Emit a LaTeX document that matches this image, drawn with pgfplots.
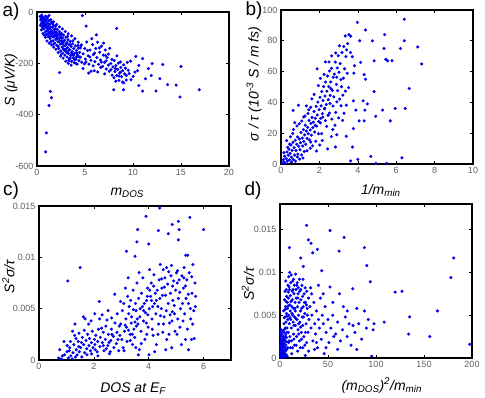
\documentclass[border=0pt]{standalone}
\usepackage{fontspec}
\setmainfont{Liberation Sans}
\usepackage{pgfplots}
\pgfplotsset{compat=1.18}
\definecolor{tickgray}{RGB}{95,95,95}
\definecolor{dotblue}{RGB}{0,0,255}
\pgfplotsset{
  panel/.style={
    scale only axis, width=192pt, height=154pt, anchor=south west,
    tick align=inside, major tick length=3pt,
    axis line style={line width=1.5pt},
    tick style={line width=0.6pt, black},
    scaled ticks=false,
    /pgf/number format/assume math mode=true,
    ticklabel style={font=\fontsize{9}{10}\selectfont, text=tickgray},
    label style={font=\fontsize{14}{16}\selectfont\itshape},
    every axis plot/.append style={only marks, mark=*, mark size=1.35pt,
      mark options={draw=dotblue, fill=dotblue}},
  },
}
\newcommand{\sub}[1]{\textsubscript{#1}}
\newcommand{\sps}[1]{\textsuperscript{#1}}
\begin{document}
\begin{tikzpicture}
\useasboundingbox (0,0) rectangle (485pt,398pt);
% a) Seebeck vs m_DOS
\begin{axis}[panel, at={(37pt,232pt)},
  xmin=0, xmax=20, ymin=-600, ymax=0,
  xtick={0,5,10,15,20}, ytick={-600,-400,-200,0},
  yticklabels={-600,-400,-200,0},
  xlabel={m\sub{DOS}}, ylabel={S (μV/K)},
  xlabel style={at={(axis description cs:0.47,-0.19)}, anchor=base},
  ylabel style={at={(axis description cs:-0.135,0.56)}, anchor=center},
]
\addplot coordinates {
(0.32,-17)(0.38,-31)(0.41,-22)(0.47,-44)(0.52,-27)(0.55,-58)(0.58,-19)(0.63,-37)(0.66,-51)(0.71,-24)
(0.73,-66)(0.77,-41)(0.81,-29)(0.84,-57)(0.86,-78)(0.92,-35)(0.95,-49)(0.97,-88)(1.03,-26)(1.06,-62)
(1.09,-43)(1.13,-74)(1.16,-96)(1.19,-55)(1.22,-33)(1.27,-81)(1.31,-47)(1.34,-66)(1.37,-104)(1.42,-58)
(1.46,-87)(1.49,-39)(1.53,-73)(1.57,-95)(1.62,-61)(1.66,-112)(1.69,-82)(1.73,-52)(1.78,-98)(1.81,-70)
(1.86,-121)(1.89,-88)(1.93,-64)(1.98,-107)(2.02,-79)(2.07,-130)(2.11,-96)(2.14,-69)(2.19,-116)(2.23,-86)
(2.27,-142)(2.31,-104)(2.36,-77)(2.41,-125)(2.44,-93)(2.48,-152)(2.53,-112)(2.57,-84)(2.61,-137)(2.66,-101)
(2.69,-160)(2.74,-121)(2.78,-90)(2.83,-146)(2.87,-110)(2.91,-168)(2.96,-131)(3.02,-98)(3.06,-155)(3.11,-118)
(3.14,-176)(3.19,-139)(3.23,-108)(3.28,-162)(3.33,-127)(3.37,-184)(3.42,-147)(3.46,-115)(3.51,-170)(3.56,-135)
(3.61,-192)(3.66,-154)(3.72,-124)(3.77,-178)(3.83,-142)(3.88,-198)(3.93,-161)(3.99,-132)(4.06,-184)(4.12,-150)
(4.18,-203)(4.24,-168)(4.31,-141)(4.37,-190)(4.44,-157)(4.52,-176)(4.58,-132)(4.66,-196)
(0.45,-70)(0.62,-84)(0.88,-99)(1.04,-113)(1.28,-122)(1.52,-128)(1.74,-137)(1.97,-145)(2.21,-158)(2.46,-172)
(2.72,-180)(2.99,-192)(3.26,-200)(3.55,-207)(1.12,-20)(1.44,-30)(1.71,-38)(2.05,-48)(2.34,-58)(2.64,-66)
(2.95,-76)(3.25,-85)(3.6,-93)(3.95,-104)(4.3,-118)
(0.56,-38)(0.69,-46)(0.83,-52)(0.99,-60)(1.14,-66)(1.38,-78)(1.58,-84)(1.83,-92)(2.09,-103)(2.38,-114)
(2.58,-124)(2.81,-132)(3.07,-142)(3.31,-150)(3.59,-160)(3.84,-168)(4.1,-176)
(0.5,-12)(0.35,-52)(0.9,-16)(1.15,-85)(1.25,-14)(1.6,-45)(1.95,-55)(2.2,-135)(2.5,-100)(2.75,-145)
(3.05,-125)(3.3,-190)(3.5,-128)(3.7,-165)(3.9,-185)(4.15,-160)(4.4,-175)(2.0,-90)(1.45,-115)(1.75,-125)
(2.55,-165)(2.9,-150)(3.15,-160)(3.45,-180)(4.05,-200)(4.5,-140)(1.05,-72)(0.75,-90)(0.6,-62)(1.3,-95)
(1.85,-78)(2.42,-88)(2.68,-115)(3.2,-95)(3.75,-112)(4.25,-130)
(4.63,-128)(4.81,-163)(4.97,-142)(5.04,-184)(5.18,-117)(5.33,-171)(5.41,-203)(5.52,-148)(5.63,-188)(5.79,-127)
(5.88,-166)(6.03,-193)(6.12,-142)(6.24,-178)(6.31,-118)(6.42,-204)(6.53,-157)(6.61,-187)(6.72,-133)(6.83,-212)
(6.91,-168)(7.03,-197)(7.12,-148)(7.22,-222)(7.31,-178)(7.43,-207)(5.62,-231)(5.97,-229)(6.33,-234)(5.38,-238)
(6.64,-216)(4.93,-202)(5.71,-104)(6.19,-89)(5.12,-55)(4.72,-14)(6.94,-121)(7.58,-141)(5.25,-150)(5.85,-210)
(6.5,-140)(4.8,-220)(7.2,-190)(5.1,-195)(5.5,-175)(6.0,-160)(6.7,-195)(7.15,-170)(7.8,-185)
(7.52,-231)(7.68,-201)(7.83,-246)(7.91,-214)(8.04,-189)(8.02,-256)(8.13,-232)(8.22,-209)(8.31,-247)(8.42,-224)
(8.47,-199)(8.53,-266)(8.61,-238)(8.72,-216)(8.81,-252)(8.93,-229)(9.02,-206)(9.04,-276)(9.12,-241)(9.21,-219)
(9.3,-247)(9.5,-227)(9.75,-191)(9.8,-264)(10.2,-234)(10.3,-173)(10.6,-208)(10.6,-286)(11.0,-182)(11.0,-308)
(11.6,-221)(11.9,-247)(12.0,-201)(12.4,-308)(12.8,-260)(13.1,-205)(13.6,-283)(14.9,-331)(15.0,-212)(16.9,-303)
(8.0,-303)(9.0,-303)(8.9,-273)(8.3,-64)(7.05,-241)(8.33,-171)(7.44,-164)(9.41,-196)(10.02,-251)(10.47,-229)
(11.3,-260)(0.97,-471)(0.9,-545)(1.39,-309)(1.5,-334)(1.25,-364)(2.36,-236)(14.5,-285)(8.7,-235)(8.15,-220)
(8.55,-250)(9.6,-240)(7.7,-225)(8.7,-195)(9.3,-265)(8.2,-270)
};
\end{axis}
% b) sigma/tau vs 1/m_min
\begin{axis}[panel, at={(281pt,234pt)},
  xmin=0, xmax=10, ymin=0, ymax=100,
  xtick={0,2,4,6,8,10}, ytick={0,20,40,60,80,100},
  xlabel={1/m\sub{min}}, ylabel={σ / τ (10\sps{-3} S / m fs)},
  xlabel style={at={(axis description cs:0.52,-0.2)}, anchor=base},
  ylabel style={at={(axis description cs:-0.14,0.52)}, anchor=center},
]
\addplot coordinates {
(0.08,0.6)(0.12,2.8)(0.16,1.2)(0.19,5.1)(0.23,0.4)(0.27,3.6)(0.31,7.8)(0.33,1.9)(0.38,5.7)(0.42,9.6)
(0.44,2.7)(0.48,6.9)(0.52,12.3)(0.54,4.4)(0.58,8.8)(0.62,14.1)(0.64,2.9)(0.68,10.6)(0.71,5.8)(0.74,15.4)
(0.78,8.7)(0.82,12.8)(0.86,17.6)(0.88,6.4)(0.92,11.5)(0.96,16.2)(0.99,9.3)(1.02,13.8)(1.04,20.4)(1.07,5.9)
(1.11,16.8)(1.13,11.7)(1.17,22.3)(1.19,14.6)(1.23,18.9)(1.26,25.2)(1.29,12.8)(1.32,21.4)(1.36,16.7)(1.39,23.8)
(1.42,19.6)(1.46,28.3)(1.48,15.6)(1.52,22.1)(1.56,26.4)(1.58,18.7)(1.62,30.2)(1.66,23.6)(1.69,27.2)(1.72,34.1)
(1.76,20.8)(1.79,29.7)(1.83,37.4)(1.86,24.6)(1.89,31.8)(1.92,40.2)(1.96,27.7)(1.99,35.3)(2.03,43.4)(2.06,29.6)
(2.09,37.8)(2.12,47.1)(2.16,32.7)(2.19,41.2)(2.22,50.3)(2.26,35.8)(2.29,44.1)(2.32,53.2)(2.36,38.6)(2.39,47.3)
(2.42,57.1)(2.46,41.7)(2.49,50.2)(2.53,60.4)(2.56,44.6)(2.59,53.3)(2.63,62.1)(2.68,47.8)(2.72,56.3)(2.78,58.4)
(2.83,66.2)(2.88,51.7)(2.93,62.4)(2.98,70.3)(3.02,59.6)(3.08,65.2)(3.12,54.8)(3.18,72.4)(3.27,76.3)(3.31,61.8)
(3.38,69.7)(3.47,78.2)(3.42,74.1)(0.29,15.2)(0.61,19.8)(0.83,24.7)(0.97,3.2)(1.21,8.1)(1.52,10.2)(1.81,14.8)
(2.12,19.7)(2.31,28.2)(2.52,33.1)(2.71,37.7)(2.02,12.3)(1.73,45.2)(1.88,61.8)(2.31,66.3)(0.63,34.8)(0.91,38.2)
(1.32,37.7)(1.61,42.3)(2.62,17.8)(2.91,40.3)(3.22,44.7)(2.43,9.8)(2.81,25.2)(3.13,37.8)(3.52,49.6)(1.41,32.8)
(1.08,27.9)(0.49,17.7)(0.72,26.8)(2.64,70.2)(3.62,72.4)(3.71,69.6)(3.83,63.8)(3.21,28.3)
(1.18,30.5)(1.45,35.2)(1.55,14.2)(1.78,25.1)(1.95,19.6)(2.05,26.7)(2.18,30.4)(2.28,36.2)(2.38,24.4)(2.45,31.6)
(2.55,39.3)(2.65,29.2)(2.75,43.6)(2.85,33.4)(2.95,47.6)(3.05,42.1)(3.15,50.2)(3.25,55.7)(3.35,47.3)(3.45,58.9)
(2.25,58.2)(2.5,66.3)(2.85,72.1)(3.05,76.8)(3.35,83.1)(0.35,10.9)(0.55,1.3)(0.75,1.8)(0.85,4.6)(1.15,3.9)
(1.35,8.6)(1.65,11.8)(1.85,8.4)(2.15,15.2)(0.15,7.4)(0.45,12.9)(0.65,22.4)(0.95,26.1)(1.25,31.2)(1.55,36.8)
(1.95,50.9)(2.05,55.6)(2.6,48.9)(2.9,56.3)(2.7,22.4)(3.4,38.2)
(3.98,92)(6.42,94)(4.4,87)(5.4,84)(6.42,80)(3.54,84)(3.63,83)(4.1,80)(4.76,80)(5.37,75)
(6.22,75)(7.12,76)(7.33,65)(4.85,67)(5.46,68)(5.55,67)(5.78,67)(4.15,66)(4.33,58)(4.4,55)
(3.8,59)(4.85,47)(6.68,49)(4.28,41)(4.5,39)(4.37,35)(3.77,41)(3.9,35)(3.28,33)(5.29,35)
(4.94,31)(5.95,36)(6.47,36)(5.69,28)(4.07,28)(4.33,28)(3.77,23)(3.4,18)(3.72,11)(4.68,5)
(6.3,4)(4.94,0.4)(5.5,0.4)(3.63,2)(4.0,3)(2.84,11)(2.9,19)(3.0,30)
};
\end{axis}
% c) power factor vs DOS at E_F
\begin{axis}[panel, at={(39pt,38pt)},
  xmin=0, xmax=7, ymin=0, ymax=0.015,
  xtick={0,2,4,6}, ytick={0,0.005,0.01,0.015},
  yticklabels={0,0.005,0.01,0.015},
  xlabel={DOS at E\sub{F}}, ylabel={S\sps{2}σ/τ},
  xlabel style={at={(axis description cs:0.49,-0.208)}, anchor=base},
  ylabel style={at={(axis description cs:-0.159,0.54)}, anchor=center},
]
\addplot coordinates {
(0.72,0.0002)(0.81,0.0001)(0.93,0.0005)(1.02,0.0008)(1.07,0.0002)(1.12,0.0012)(1.16,0.0004)(1.21,0.0001)(1.24,0.0007)(1.27,0.0015)
(1.33,0.0003)(1.36,0.0010)(1.39,0.0005)(1.43,0.0018)(1.47,0.0008)(1.52,0.0012)(1.56,0.0003)(1.58,0.0022)(1.63,0.0015)(1.67,0.0007)
(1.71,0.0019)(1.74,0.0011)(1.77,0.0025)(1.82,0.0014)(1.84,0.0021)(1.88,0.0009)(1.91,0.0017)(1.94,0.0028)(1.97,0.0012)(2.02,0.0020)
(2.04,0.0015)(2.07,0.0024)(2.12,0.0008)(2.14,0.0018)(2.17,0.0030)(2.22,0.0013)(2.24,0.0022)(2.31,0.0017)(2.34,0.0027)(2.37,0.0009)
(2.42,0.0020)(2.44,0.0033)(2.51,0.0014)(2.53,0.0025)(2.57,0.0006)(2.62,0.0019)(2.64,0.0030)(2.71,0.0023)(2.73,0.0012)(2.77,0.0036)
(2.82,0.0016)(2.84,0.0027)(2.91,0.0009)(2.93,0.0033)(1.22,0.0028)(1.31,0.0035)(0.91,0.0018)(1.62,0.0042)(1.81,0.0035)(2.03,0.0045)
(2.21,0.0040)(2.52,0.0048)(1.46,0.0026)(0.76,0.0010)(1.05,0.0077)(1.5,0.0090)(1.68,0.0040)(2.2,0.0057)(2.76,0.0064)
(3.02,0.0020)(2.98,0.0035)(3.04,0.0048)(3.07,0.0012)(3.12,0.0028)(3.09,0.0055)(3.17,0.0040)(3.21,0.0018)(3.19,0.0032)(3.23,0.0062)
(3.27,0.0045)(3.32,0.0025)(3.29,0.0052)(3.36,0.0036)(3.41,0.0015)(3.38,0.0042)(3.43,0.0068)(3.46,0.0030)(3.52,0.0055)(3.49,0.0022)
(3.54,0.0048)(3.57,0.0075)(3.61,0.0035)(3.63,0.0060)(3.66,0.0010)(3.68,0.0042)(3.72,0.0028)(3.74,0.0065)(3.77,0.0052)(3.81,0.0038)
(3.79,0.0080)(3.86,0.0020)(3.88,0.0046)(3.92,0.0058)(3.96,0.0070)(3.98,0.0032)(4.02,0.0050)(4.03,0.0088)(4.01,0.0005)
(4.07,0.0062)(4.12,0.0040)(4.09,0.0075)(4.16,0.0024)(4.21,0.0055)(4.19,0.0083)(4.26,0.0045)(4.31,0.0068)(4.28,0.0015)(4.36,0.0035)
(4.41,0.0060)(4.38,0.0078)(4.46,0.0050)(4.51,0.0027)(4.48,0.0070)(4.53,0.0088)(4.56,0.0042)(4.61,0.0063)(4.59,0.0080)(4.66,0.0020)
(4.71,0.0055)(4.69,0.0074)(4.76,0.0036)(4.81,0.0082)(4.79,0.0065)(4.86,0.0047)(4.91,0.0077)(4.88,0.0058)(4.96,0.0028)(5.01,0.0085)
(4.98,0.0068)(5.06,0.0040)(5.11,0.0078)(5.08,0.0060)(5.16,0.0050)(5.21,0.0082)(5.19,0.0015)(5.26,0.0070)(5.31,0.0045)(5.29,0.0090)
(5.36,0.0060)(5.41,0.0030)(5.39,0.0078)(5.52,0.0050)(5.48,0.0085)(5.56,0.0020)(5.61,0.0093)(5.58,0.0065)(5.71,0.0062)(5.66,0.0021)
(5.53,0.0040)(5.03,0.0025)(4.62,0.0010)(4.22,0.0008)(4.42,0.0093)(4.83,0.0092)(3.62,0.0005)
(2.45,0.0011)(2.65,0.0041)(2.85,0.0045)(2.95,0.0024)(3.14,0.0034)(3.26,0.0029)(3.34,0.0058)(3.44,0.0049)(3.55,0.0033)(3.58,0.0040)
(3.69,0.0050)(3.84,0.0055)(3.91,0.0036)(3.97,0.0044)(4.04,0.0068)(4.14,0.0052)(4.24,0.0065)(4.33,0.0052)(4.43,0.0043)(4.47,0.0079)
(4.57,0.0071)(4.64,0.0048)(4.73,0.0086)(4.78,0.0044)(4.87,0.0072)(4.93,0.0053)(5.04,0.0075)(5.13,0.0066)(5.23,0.0055)(5.28,0.0080)
(5.34,0.0072)(5.44,0.0064)(5.57,0.0081)(5.64,0.0048)(5.69,0.0075)(3.33,0.0019)(3.53,0.0012)(3.73,0.0016)(3.93,0.0025)(4.13,0.0030)
(4.34,0.0025)(4.54,0.0035)(4.74,0.0025)(4.94,0.0045)(5.14,0.0032)(5.34,0.0020)(5.45,0.0010)(4.84,0.0012)(1.92,0.0006)(2.15,0.0004)
(2.35,0.0014)(2.55,0.0017)(2.66,0.0025)(1.65,0.0029)(1.35,0.0021)(1.15,0.0018)(1.03,0.0014)(3.1,0.0009)(3.5,0.0037)(4.1,0.0058)
(1.1,0.0009)(1.45,0.0013)(1.75,0.0005)(2.05,0.0010)(2.28,0.0031)(2.48,0.0039)(2.6,0.0008)(2.88,0.0020)(2.97,0.0057)(3.15,0.0070)
(3.25,0.0080)(3.4,0.0025)(3.65,0.0085)(3.82,0.0048)(3.95,0.0062)(4.18,0.0072)(4.28,0.0058)(4.5,0.0063)(4.65,0.0090)(4.85,0.0038)
(5.05,0.0087)(5.25,0.0038)(5.45,0.0055)(5.6,0.0035)(5.7,0.0052)(1.9,0.0038)(2.3,0.0044)(1.55,0.0017)(0.85,0.0004)(1.3,0.0024)
(4.4,0.0148)(3.9,0.0140)(5.5,0.0139)(6.0,0.0127)(5.08,0.0135)(4.86,0.0132)(5.11,0.0127)(3.6,0.0127)(4.35,0.0126)(4.71,0.0123)
(4.0,0.0113)(3.57,0.0115)(3.19,0.0106)(5.08,0.0117)(3.5,0.0101)(5.35,0.0102)(5.42,0.0102)
};
\end{axis}
% d) power factor vs m_DOS^2/m_min
\begin{axis}[panel, at={(280pt,40pt)},
  xmin=0, xmax=200, ymin=0, ymax=0.018,
  xtick={0,50,100,150,200}, ytick={0,0.005,0.01,0.015},
  yticklabels={0,0.005,0.01,0.015},
  xlabel={(m\sub{DOS})\sps{2}/m\sub{min}}, ylabel={S\sps{2}σ/τ},
  xlabel style={at={(axis description cs:0.53,-0.208)}, anchor=base},
  ylabel style={at={(axis description cs:-0.167,0.48)}, anchor=center},
]
\addplot coordinates {
(0.4,0.0001)(0.9,0.0003)(1.3,0.0008)(1.6,0.0002)(1.7,0.0012)(2.1,0.0005)(2.3,0.0016)(2.6,0.0001)(2.7,0.0010)(3.1,0.0004)
(2.9,0.0020)(3.3,0.0007)(3.6,0.0013)(3.4,0.0025)(4.1,0.0002)(3.9,0.0009)(4.3,0.0017)(4.6,0.0005)(4.4,0.0030)(5.1,0.0012)
(4.8,0.0021)(5.3,0.0001)(5.6,0.0008)(6.1,0.0015)(5.9,0.0027)(6.3,0.0004)(6.6,0.0019)(7.1,0.0010)(6.8,0.0024)(7.6,0.0002)
(0.8,0.0020)(1.2,0.0025)(2.2,0.0028)(1.8,0.0006)(3.2,0.0032)(0.5,0.0015)(0.3,0.0006)(2.8,0.0015)(4.2,0.0013)(5.8,0.0035)
(1.1,0.0033)(0.6,0.0009)(1.4,0.0017)(1.9,0.0022)(2.4,0.0007)(0.7,0.0026)(1.5,0.0004)(2.5,0.0019)(3.5,0.0003)(0.2,0.0012)
(0.9,0.0030)(1.6,0.0029)(2.0,0.0011)(3.8,0.0022)
(4.2,0.0040)(3.8,0.0055)(5.3,0.0048)(4.7,0.0068)(5.2,0.0078)(6.2,0.0042)(5.8,0.0060)(6.7,0.0052)(7.3,0.0035)(6.9,0.0072)
(7.7,0.0065)(8.2,0.0045)(7.9,0.0058)(8.3,0.0085)(8.7,0.0030)(9.2,0.0050)(8.8,0.0070)(9.1,0.0095)(9.7,0.0040)(10.3,0.0062)
(9.8,0.0080)(10.2,0.0025)(10.7,0.0055)(11.3,0.0045)(10.8,0.0073)(11.2,0.0088)(11.7,0.0035)(12.3,0.0060)(11.9,0.0020)(12.7,0.0078)
(13.2,0.0050)(12.8,0.0068)(13.3,0.0090)(13.7,0.0042)(14.2,0.0028)(13.9,0.0058)(14.6,0.0075)(15.3,0.0048)(14.8,0.0085)(15.2,0.0015)
(15.7,0.0065)(16.2,0.0038)(15.9,0.0055)(16.7,0.0080)(17.2,0.0025)(16.8,0.0070)(17.7,0.0045)(18.2,0.0060)(17.9,0.0088)(18.7,0.0033)
(19.3,0.0050)(18.8,0.0075)(20.2,0.0020)(19.8,0.0065)(20.3,0.0092)(20.7,0.0042)(21.3,0.0055)(21.7,0.0080)(22.2,0.0030)(21.8,0.0068)
(23.2,0.0048)(22.8,0.0085)(23.6,0.0012)(24.2,0.0060)(23.8,0.0038)(25.2,0.0075)(24.8,0.0025)(25.7,0.0052)(26.2,0.0082)(26.7,0.0065)
(27.2,0.0040)(27.7,0.0018)(28.3,0.0058)(27.8,0.0078)(29.2,0.0030)(29.7,0.0070)(30.3,0.0045)(29.8,0.0008)(31.2,0.0060)(32.3,0.0035)
(31.8,0.0082)(33.2,0.0050)(34.2,0.0020)(35.3,0.0065)(36.2,0.0040)(12.2,0.0005)(8.1,0.0012)(18.3,0.0008)(26.3,0.0003)(10.1,0.0100)
(16.3,0.0098)(7.2,0.0030)(5.1,0.0034)(9.4,0.0020)(13.1,0.0012)(21.2,0.0012)
(4.5,0.0047)(5.5,0.0057)(6.4,0.0066)(7.4,0.0049)(8.5,0.0061)(9.5,0.0083)(10.5,0.0047)(11.5,0.0066)(12.5,0.0052)(13.6,0.0080)
(14.5,0.0038)(15.5,0.0058)(16.5,0.0046)(17.5,0.0085)(18.5,0.0070)(19.5,0.0040)(20.5,0.0078)(21.5,0.0036)(22.5,0.0058)(23.5,0.0072)
(24.5,0.0048)(25.5,0.0065)(26.5,0.0030)(27.5,0.0062)(28.5,0.0050)(6.0,0.0090)(8.6,0.0077)(11.6,0.0097)(14.0,0.0092)(19.0,0.0082)
(24.0,0.0092)(5.4,0.0024)(8.9,0.0018)(11.0,0.0012)(14.4,0.0022)(16.9,0.0015)(19.6,0.0028)(22.6,0.0022)(25.9,0.0015)(6.6,0.0080)
(37,0.0028)(38,0.0055)(39,0.0012)(40,0.0045)(41,0.0035)(42,0.0070)(43,0.0022)(44,0.0050)(45,0.0040)(46,0.0005)
(47,0.0060)(48,0.0030)(50,0.0045)(51,0.0018)(52,0.0083)(53,0.0035)(55,0.0050)(56,0.0025)(58,0.0028)(60,0.0042)
(62,0.0075)(63,0.0020)(65,0.0033)(66,0.0060)(68,0.0048)(70,0.0025)(72,0.0040)(74,0.0015)(76,0.0038)(78,0.0030)
(82,0.0040)(85,0.0022)(88,0.0055)(90,0.0035)(92,0.0045)(98,0.0040)(60,0.0010)(45,0.0075)(55,0.0065)(40,0.0085)
(36,0.0010)(48,0.0012)(33,0.0075)(38,0.0018)(70,0.0055)(80,0.0010)
(27.8,0.0155)(52.2,0.0149)(66.8,0.0141)(88,0.0129)(61.6,0.0125)(181,0.0117)(90.4,0.0108)(178,0.0094)(94,0.0089)(75.8,0.0081)
(120,0.0077)(127,0.0078)(164,0.0055)(135,0.0048)(108.5,0.0042)(156,0.0025)(134,0.0028)(197.6,0.0016)(95.6,0.0002)(9.7,0.0129)
(29.6,0.0138)(32.3,0.0134)(34,0.0123)(39,0.0127)(43.5,0.0102)(21.6,0.0117)(24.3,0.0107)(80,0.0058)(97,0.0033)
};
\end{axis}
\node[font=\fontsize{19}{20}\selectfont, anchor=center] at (11pt,386pt) {a)};
\node[font=\fontsize{19}{20}\selectfont, anchor=center] at (254pt,387pt) {b)};
\node[font=\fontsize{19}{20}\selectfont, anchor=center] at (11pt,207pt) {c)};
\node[font=\fontsize{19}{20}\selectfont, anchor=center] at (253pt,207pt) {d)};
\end{tikzpicture}
\end{document}
